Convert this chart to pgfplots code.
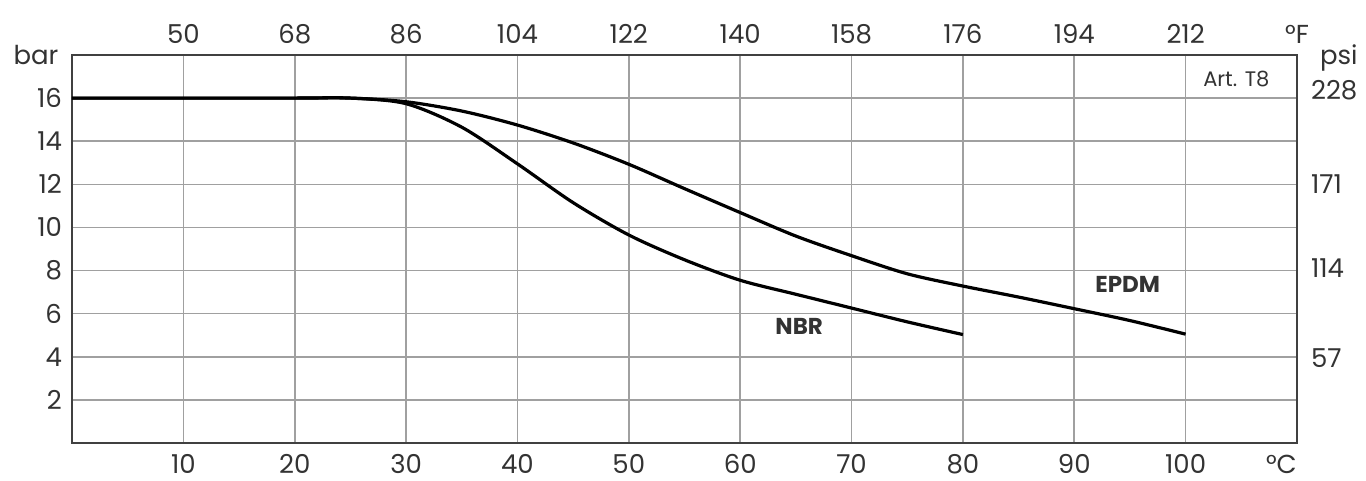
\documentclass[border=0pt]{standalone}
\usepackage{fontspec}
\setmainfont{Poppins}
\usepackage{pgfplots}
\pgfplotsset{compat=1.18}

\definecolor{gridgray}{HTML}{A0A0A0}
\definecolor{framegray}{HTML}{404040}
\definecolor{labelgray}{HTML}{333333}

\pgfplotsset{
  chartbase/.style={
    width=612.5pt, height=194pt, scale only axis,
    xmin=0, xmax=110, ymin=0, ymax=18,
    major tick length=0pt,
    tick label style={font=\fontsize{13}{15}\selectfont, text=labelgray},
    /pgf/number format/assume math mode=true,
  }
}

\begin{document}
\begin{tikzpicture}
% bottom / left scale: degC and bar
\begin{axis}[chartbase, name=main,
    xtick={10,20,...,100}, ytick={2,4,...,16},
    grid=major, grid style={color=gridgray, line width=0.8pt},
    axis line style={color=framegray, line width=1.1pt},
    extra x ticks={108.6}, extra x tick labels={°C},
    extra x tick style={major grid style={draw=none}},
    xticklabel style={yshift=-2.3pt},
    yticklabel style={xshift=-1.5pt},
    clip=false,
]
% EPDM
\addplot[black, line width=1.6pt, smooth] coordinates {
  (0,16) (10,16) (20,16) (25,16) (30,15.83) (35,15.4) (40,14.75)
  (45,13.92) (50,12.93) (55,11.8) (60,10.69) (65,9.6) (70,8.69)
  (75,7.85) (80,7.28) (85,6.77) (90,6.23) (95,5.68) (100,5.05)
};
% NBR
\addplot[black, line width=1.6pt, smooth] coordinates {
  (0,16) (10,16) (20,16) (25,16) (30,15.74) (35,14.65) (40,12.95)
  (45,11.15) (50,9.65) (55,8.5) (60,7.55) (65,6.9) (70,6.26)
  (75,5.62) (80,5.03)
};
\node[font=\fontsize{11.5}{13}\selectfont\bfseries, text=labelgray] at (axis cs:65.3,5.41) {NBR};
\node[font=\fontsize{11.5}{13}\selectfont\bfseries, text=labelgray] at (axis cs:94.8,7.35) {EPDM};
\node[font=\fontsize{10.5}{12}\selectfont, text=labelgray] at (axis cs:104.55,16.88) {Art. T8};
\node[font=\fontsize{13}{15}\selectfont, text=labelgray] at ([xshift=-18pt]rel axis cs:0,1) {bar};
\node[font=\fontsize{13}{15}\selectfont, text=labelgray, anchor=base west] at ([xshift=8pt,yshift=-5pt]rel axis cs:1,1) {psi};
\end{axis}
% top / right scale: degF and psi
\begin{axis}[chartbase,
    axis x line*=top, axis y line*=right,
    axis line style={draw=none},
    xtick={10,20,...,110},
    xticklabels={50,68,86,104,122,140,158,176,194,212,°F},
    ytick={3.94,8.1,12,16.37},
    yticklabels={57,114,171,228},
    xticklabel style={yshift=2pt},
    yticklabel style={xshift=3.5pt},
]
\end{axis}
\pgfresetboundingbox
\path[use as bounding box] ([shift={(-36pt,-19pt)}]main.south west) rectangle ([shift={(34.5pt,27.5pt)}]main.north east);
\end{tikzpicture}
\end{document}
